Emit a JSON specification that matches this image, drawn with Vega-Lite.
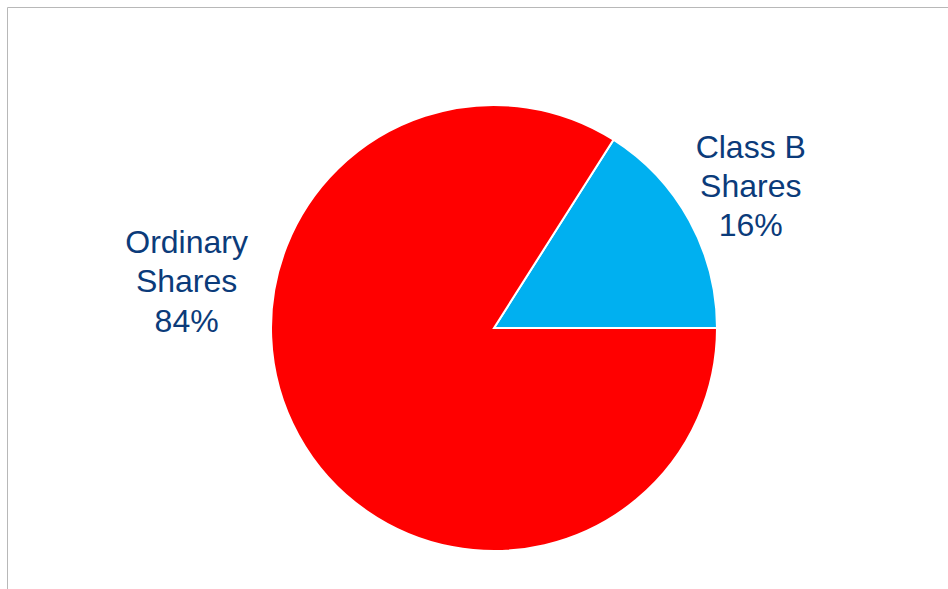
{
  "$schema": "https://vega.github.io/schema/vega-lite/v6.json",
  "width": 948,
  "height": 589,
  "autosize": {"type": "fit", "contains": "padding"},
  "padding": {"left": 7, "top": 7, "right": -33, "bottom": -60},
  "background": "white",
  "view": {"stroke": "#b8b8b8", "strokeWidth": 1},
  "data": {
    "values": [
      {"share": "Class B Shares", "percent": 16, "label": "Class B\nShares\n16%"},
      {"share": "Ordinary Shares", "percent": 84, "label": "Ordinary\nShares\n84%"}
    ]
  },
  "layer": [
    {
      "mark": {"type": "arc", "outerRadius": 223, "stroke": "white", "strokeWidth": 2},
      "encoding": {
        "theta": {"field": "percent", "type": "quantitative", "stack": true, "scale": {"range": [0.5655, 6.8487]}},
        "color": {
          "field": "share",
          "type": "nominal",
          "scale": {"domain": ["Class B Shares", "Ordinary Shares"], "range": ["#00B0F0", "#FF0000"]},
          "legend": null
        }
      }
    },
    {
      "transform": [{"filter": "datum.share === 'Class B Shares'"}],
      "mark": {"type": "text", "radius": 293, "dy": -39, "fontSize": 32, "font": "Liberation Sans", "lineBreak": "\n", "lineHeight": 39, "align": "center", "baseline": "middle", "color": "#0B3B7A"},
      "encoding": {
        "theta": {"field": "percent", "type": "quantitative", "stack": true},
        "text": {"field": "label"}
      }
    },
    {
      "transform": [{"filter": "datum.share === 'Ordinary Shares'"}],
      "mark": {"type": "text", "theta": 4.983, "radius": 319, "fontSize": 32, "font": "Liberation Sans", "lineBreak": "\n", "lineHeight": 39.5, "align": "center", "baseline": "middle", "color": "#0B3B7A"},
      "encoding": {
        "text": {"field": "label"}
      }
    }
  ]
}
